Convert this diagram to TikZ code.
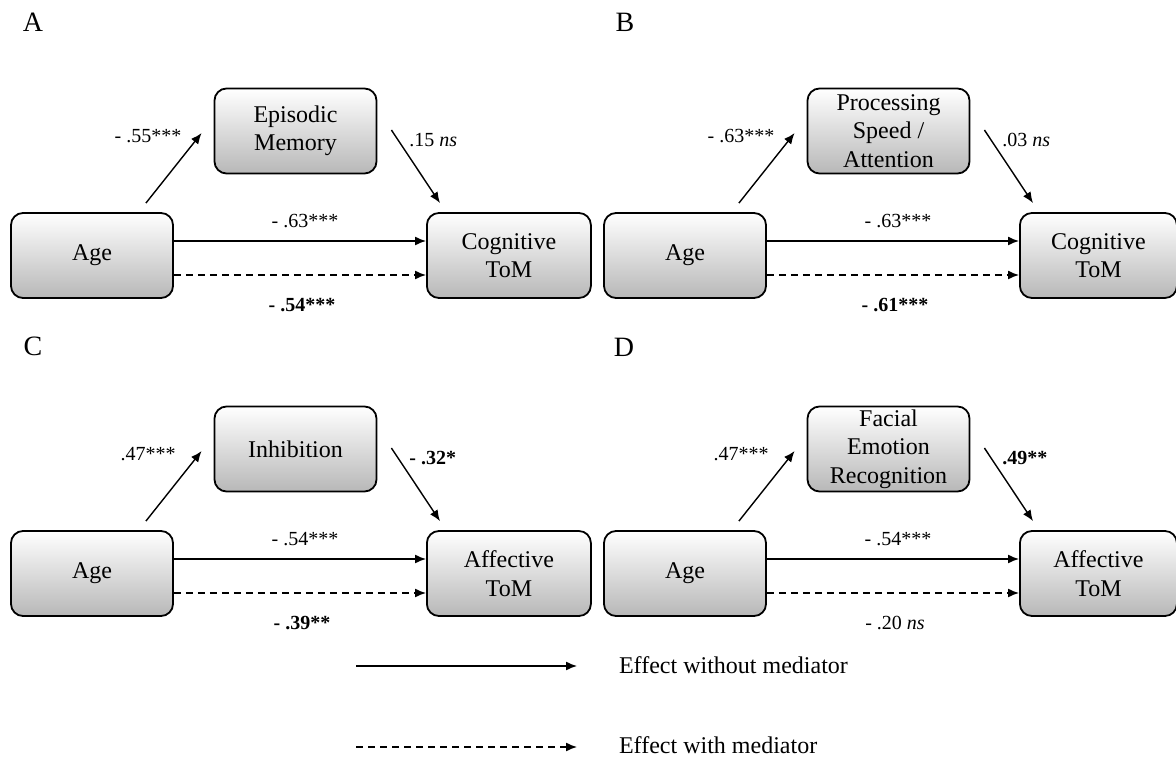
\documentclass[tikz,border=0pt]{standalone}
\usepackage{fontspec}
\setmainfont{Liberation Serif}
\usetikzlibrary{arrows.meta}

\tikzset{
  box/.style={draw, line width=0.9pt, rounded corners=6pt, top color=white, bottom color=black!28,
    minimum width=81pt, minimum height=42.5pt, align=center, inner sep=0.5pt,
    font=\fontsize{12}{14.2}\selectfont},
  coef/.style={inner sep=0pt, font=\fontsize{10}{12}\selectfont},
  effect/.style={line width=0.7pt, -{Latex[length=5.5pt,width=4.5pt]}},
  withmed/.style={effect, dash pattern=on 3.5pt off 2.5pt},
}

\begin{document}
\begin{tikzpicture}[x=0.5pt, y=-0.5pt]
\useasboundingbox (0,0) rectangle (1176,763);
% panel letters
\foreach \n/\x/\y in {A/33/22, B/625/22, C/33/346, D/624/347}
  {\node[font=\fontsize{14}{16}\selectfont] (let\n) at (\x,\y) {\n};}
% the four mediation models
\foreach \n/\dx/\dy/\tw/\med/\tom/\la/\lb/\lc/\ld in {
  A/0/0/82/{Episodic\\Memory}/Cognitive/{- .55***}/{.15 \textit{ns}}/{- .63***}/{\textbf{- .54***}},
  B/593/0/78.5/{Processing\\Speed /\\Attention}/Cognitive/{- .63***}/{.03 \textit{ns}}/{- .63***}/{\textbf{- .61***}},
  C/0/318/82/{Inhibition}/Affective/{.47***}/{\textbf{- .32*}}/{- .54***}/{\textbf{- .39**}},
  D/593/318/78.5/{Facial\\Emotion\\Recognition}/Affective/{.47***}/{\textbf{.49**}}/{- .54***}/{- .20 \textit{ns}}}
{
\begin{scope}[shift={(\dx,\dy)}]
\node[box] (age\n) at (92,255.5) {Age};
\node[box] (med\n) at (295.5,131) {\med};
\node[box, anchor=west, minimum width=\tw pt] (tom\n) at (426,255.5) {\tom\\ToM};
\coordinate (as\n) at ([shift={(-28,-9)}]age\n.north east);
\coordinate (ae\n) at ([shift={(-12,2)}]med\n.west);
\coordinate (bs\n) at ([shift={(14,-1)}]med\n.east);
\coordinate (be\n) at ([shift={(14,-9)}]tom\n.north west);
\draw[effect] (as\n) -- (ae\n);
\draw[effect] (bs\n) -- (be\n);
\draw[effect] ([shift={(0,-14.5)}]age\n.east) -- ([shift={(0,-14.5)}]tom\n.west);
\draw[withmed] ([shift={(0,19.5)}]age\n.east) -- ([shift={(0,19.5)}]tom\n.west);
\node[coef] (la\n) at (148,136) {\la};
\node[coef, anchor=west] (lb\n) at (409,140) {\lb};
\node[coef] (lc\n) at (305,221) {\lc};
\node[coef] (ld\n) at (302,305) {\ld};
\end{scope}
}
% legend
\coordinate (ls1) at (356,666);
\coordinate (le1) at (577,666);
\coordinate (ls2) at (356,747);
\coordinate (le2) at (577,747);
\draw[effect] (ls1) -- (le1);
\draw[withmed] (ls2) -- (le2);
\node[anchor=west, font=\fontsize{12}{14}\selectfont] (lt1) at (612,665) {Effect without mediator};
\node[anchor=west, font=\fontsize{12}{14}\selectfont] (lt2) at (612,745) {Effect with mediator};
\end{tikzpicture}
\end{document}
